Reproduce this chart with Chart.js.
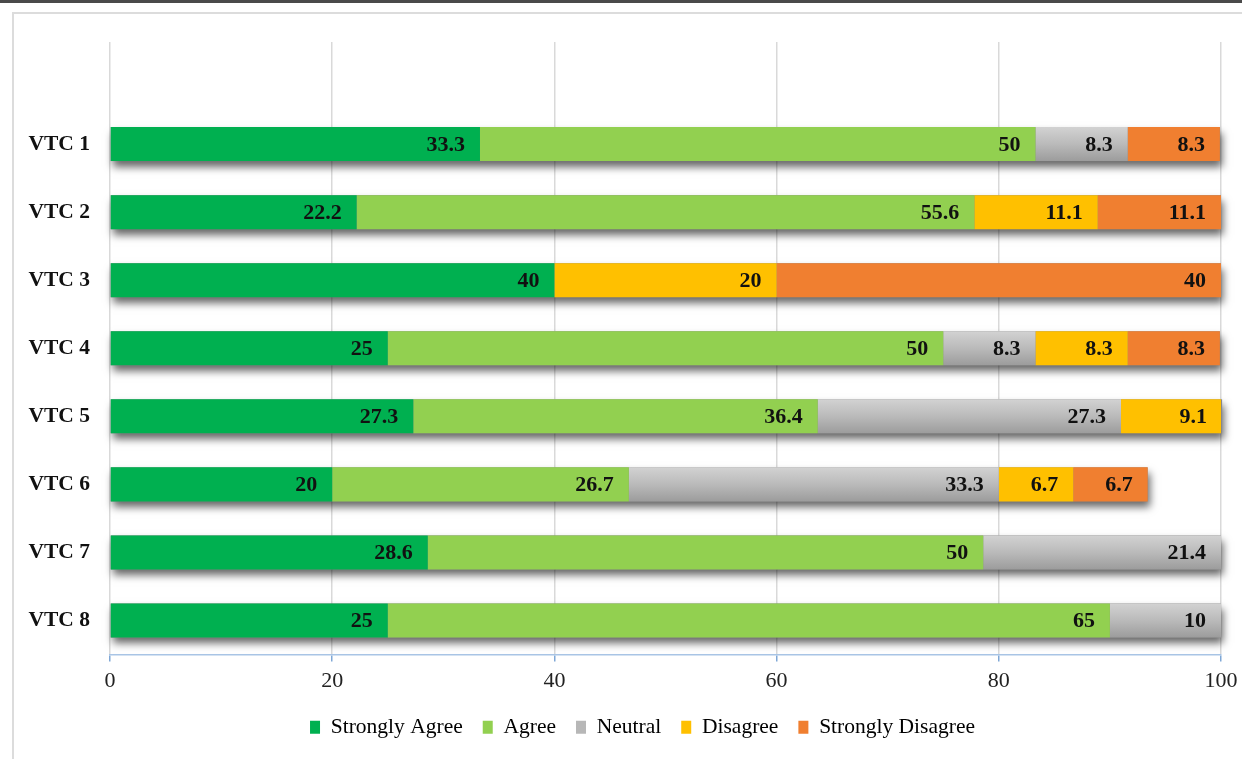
<!DOCTYPE html>
<html>
<head>
<meta charset="utf-8">
<script src="https://cdn.jsdelivr.net/npm/chart.js@4/dist/chart.umd.min.js"></script>
<style>
  html, body { margin: 0; padding: 0; background: #fff; }
  #wrap { position: relative; width: 1242px; height: 759px; overflow: hidden; background: #fff; }
  #topline { position: absolute; left: 0; top: 0; width: 1242px; height: 3px; background: #4a4a4a; }
  #frame { position: absolute; left: 12px; top: 12px; width: 1240px; height: 760px; border: 2px solid #dcdcdc; }
  #chart { position: absolute; left: 0; top: 0; }
</style>
</head>
<body>
<div id="wrap">
  <div id="topline"></div>
  <div id="frame"></div>
  <canvas id="chart" width="1242" height="759"></canvas>
</div>
<script>
// Centros de formación y porcentaje de respuestas por nivel
const centros = ['VTC 1', 'VTC 2', 'VTC 3', 'VTC 4', 'VTC 5', 'VTC 6', 'VTC 7', 'VTC 8'];
const muyDeAcuerdo   = [33.3, 22.2, 40,   25,   27.3, 20,   28.6, 25];
const deAcuerdo      = [50,   55.6, null, 50,   36.4, 26.7, 50,   65];
const neutral        = [8.3,  null, null, 8.3,  27.3, 33.3, 21.4, 10];
const enDesacuerdo   = [null, 11.1, 20,   8.3,  9.1,  6.7,  null, null];
const muyDesacuerdo  = [8.3,  11.1, 40,   8.3,  null, 6.7,  null, null];
const ticksX = [0, 20, 40, 60, 80, 100];

const serie = (nombre, valores, color) => ({
  label: nombre,
  // fila vacía arriba para dejar espacio sobre la primera barra
  data: [null, ...valores],
  backgroundColor: color,
  borderWidth: 0,
  barPercentage: 0.5,
  categoryPercentage: 1
});

// gris con degradado vertical por barra
function grisDegradado(c) {
  const y = c.chart.scales.y;
  if (!y || c.type !== 'data' || !c.chart.chartArea) return '#b7b7b7';
  const cy = y.getPixelForValue(c.dataIndex);
  const mitad = Math.abs(y.getPixelForValue(1) - y.getPixelForValue(0)) / 4;
  const g = c.chart.ctx.createLinearGradient(0, cy - mitad, 0, cy + mitad);
  g.addColorStop(0, '#d2d2d2');
  g.addColorStop(0.5, '#bababa');
  g.addColorStop(1, '#9c9c9c');
  return g;
}

// sombra debajo de cada barra apilada completa
const sombras = {
  id: 'sombras',
  beforeDatasetsDraw(chart) {
    const ctx = chart.ctx;
    const metas = chart.data.datasets.map((d, i) => chart.getDatasetMeta(i));
    ctx.save();
    ctx.shadowColor = 'rgba(0,0,0,0.6)';
    ctx.shadowBlur = 8;
    ctx.shadowOffsetX = 2;
    ctx.shadowOffsetY = 6;
    ctx.fillStyle = '#888';
    chart.data.labels.forEach((l, j) => {
      let x0 = null, x1 = null, y = 0, h = 0;
      metas.forEach((m, i) => {
        const v = chart.data.datasets[i].data[j];
        if (v == null) return;
        const el = m.data[j];
        x0 = x0 == null ? el.base : Math.min(x0, el.base);
        x1 = x1 == null ? el.x : Math.max(x1, el.x);
        y = el.y; h = el.height;
      });
      if (x0 == null) return;
      ctx.fillRect(x0, y - h / 2, x1 - x0, h);
    });
    ctx.restore();
  }
};

// valores dentro del extremo de cada segmento
const etiquetas = {
  id: 'etiquetas',
  afterDatasetsDraw(chart) {
    const ctx = chart.ctx;
    ctx.save();
    ctx.font = 'bold 22px "Liberation Serif", "Times New Roman", serif';
    ctx.fillStyle = '#111';
    ctx.textAlign = 'right';
    ctx.textBaseline = 'middle';
    chart.data.datasets.forEach((ds, i) => {
      chart.getDatasetMeta(i).data.forEach((el, j) => {
        const v = ds.data[j];
        if (v == null) return;
        ctx.fillText(String(v), el.x - 15, el.y + 1);
      });
    });
    ctx.restore();
  }
};

// la leyenda va algo desplazada a la derecha del centro del lienzo
const moverLeyenda = {
  id: 'moverLeyenda',
  afterLayout(chart) {
    if (!chart.legend) return;
    chart.legend.left += 32;
    chart.legend.right += 32;
  }
};

const fuente = '"Liberation Serif", "Times New Roman", serif';

new Chart(document.getElementById('chart'), {
  type: 'bar',
  data: {
    labels: ['', ...centros],
    datasets: [
      serie('Strongly Agree', muyDeAcuerdo, '#00b050'),
      serie('Agree', deAcuerdo, '#92d050'),
      serie('Neutral', neutral, grisDegradado),
      serie('Disagree', enDesacuerdo, '#ffc000'),
      serie('Strongly Disagree', muyDesacuerdo, '#f07f30')
    ]
  },
  options: {
    indexAxis: 'y',
    responsive: false,
    animation: false,
    layout: { padding: { top: 42, right: 21, bottom: 11, left: 0 } },
    plugins: {
      tooltip: { enabled: false },
      legend: {
        position: 'bottom',
        labels: {
          font: { family: fuente, size: 21.5 },
          color: '#222',
          boxWidth: 10,
          boxHeight: 13,
          padding: 20,
          generateLabels(chart) {
            return chart.data.datasets.map((d, i) => ({
              text: d.label,
              fillStyle: i === 2 ? '#b7b7b7' : d.backgroundColor,
              strokeStyle: 'transparent',
              lineWidth: 0,
              datasetIndex: i
            }));
          }
        }
      }
    },
    scales: {
      x: {
        stacked: true,
        min: 0,
        max: 100,
        afterBuildTicks(scale) { scale.ticks = ticksX.map(v => ({ value: v })); },
        afterFit(scale) {
          scale.height = 42;
          scale.paddingLeft = 0;
          scale.paddingRight = 0;
        },
        ticks: { font: { family: fuente, size: 22 }, color: '#222', padding: 7, maxRotation: 0 },
        grid: { color: '#d9d9d9', lineWidth: 1.5, tickColor: '#7fa7d6', tickLength: 7 },
        border: { color: '#a9c5e6', width: 1.5 }
      },
      y: {
        stacked: true,
        afterFit(scale) { scale.width = 110; },
        ticks: { font: { family: fuente, size: 21.5, weight: 'bold' }, color: '#111', padding: 12 },
        grid: { display: false },
        border: { display: false }
      }
    }
  },
  plugins: [sombras, etiquetas, moverLeyenda]
});
</script>
</body>
</html>
